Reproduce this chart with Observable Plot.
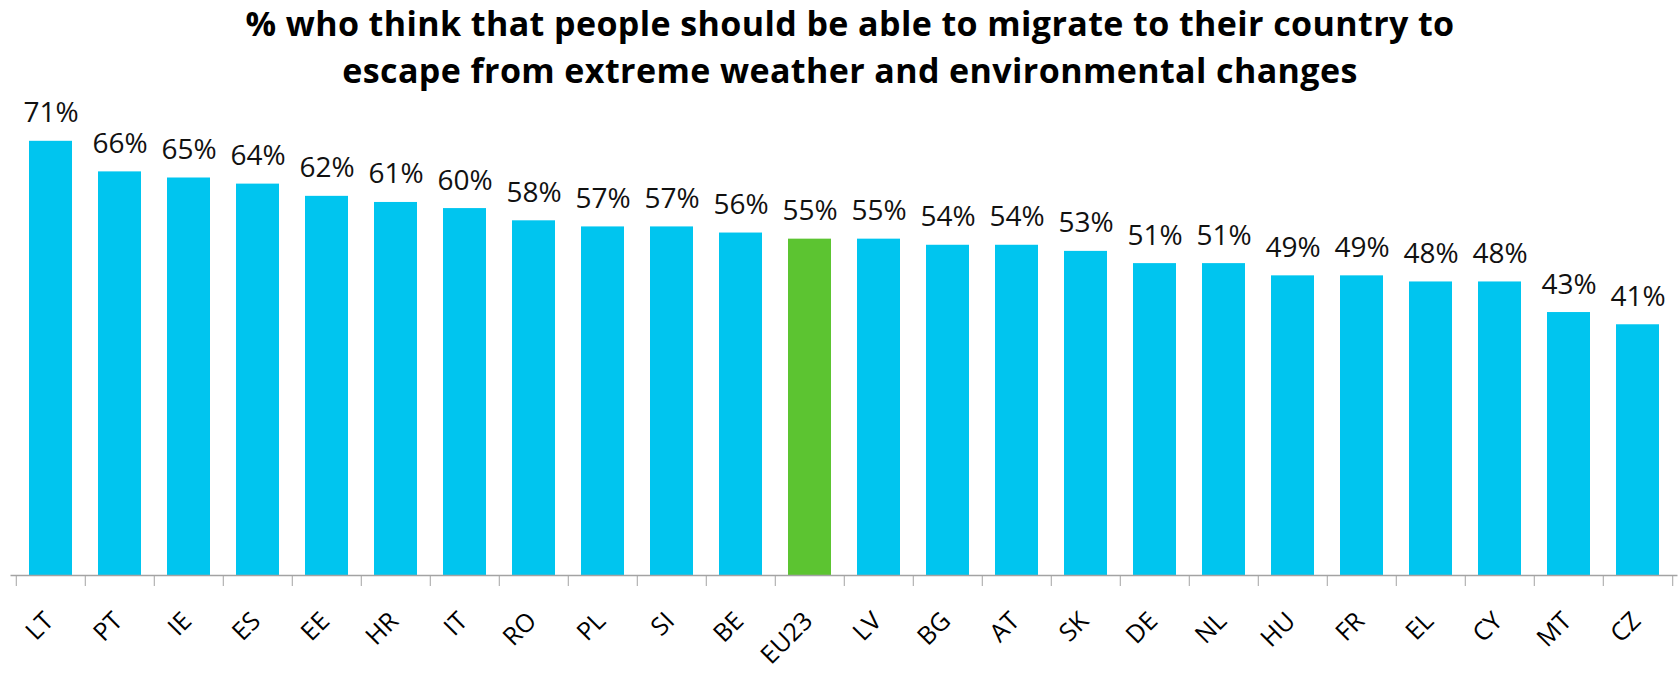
<!DOCTYPE html>
<html>
<head>
<meta charset="utf-8">
<script src="https://cdn.jsdelivr.net/npm/d3@7"></script>
<script src="https://cdn.jsdelivr.net/npm/@observablehq/plot@0.6"></script>
<style>
  html, body { margin: 0; padding: 0; background: #fff; overflow: hidden; }
  #title {
    height: 93px; margin: 0; padding-left: 22px;
    font-family: "Open Sans", sans-serif; font-weight: 700;
    font-size: 34px; line-height: 46.5px; letter-spacing: 0.4px;
    text-align: center; color: #000;
  }
</style>
</head>
<body>
<div id="title">% who think that people should be able to migrate to their country to<br>escape from extreme weather and environmental changes</div>
<div id="chart"></div>
<script>
const countries = ["LT","PT","IE","ES","EE","HR","IT","RO","PL","SI","BE","EU23","LV","BG","AT","SK","DE","NL","HU","FR","EL","CY","MT","CZ"];
const values = [71,66,65,64,62,61,60,58,57,57,56,55,55,54,54,53,51,51,49,49,48,48,43,41];
const highlight = "EU23";

const W = 1678, H = 580;
const mL = 10.5, mR = 0.5;
const step = (W - mL - mR) / countries.length;
const data = countries.map((c, i) => ({country: c, value: values[i]}));

const chart = Plot.plot({
  width: W, height: H,
  marginLeft: mL, marginRight: mR, marginTop: 5, marginBottom: 98,
  style: {fontFamily: "Open Sans", background: "#fff", overflow: "visible"},
  x: {domain: countries, paddingInner: 0.375, paddingOuter: 0.1875, label: null, axis: null},
  y: {domain: [0, 78], axis: null},
  color: {type: "identity"},
  marks: [
    Plot.barY(data, {x: "country", y: "value", fill: d => d.country === highlight ? "#5cc431" : "#00c5ef"}),
    Plot.text(data, {x: "country", y: "value", text: d => d.value + "%", lineAnchor: "bottom", dy: -19, fontSize: 28, fill: "#111"}),
    Plot.ruleY([0], {stroke: "#a3a3a3", strokeWidth: 1.3}),
    Plot.axisX({tickSize: 11, tickFormat: () => "", dx: -step / 2, stroke: "#a3a3a3", label: null}),
    Plot.axisX({ticks: [countries[countries.length - 1]], tickSize: 11, tickFormat: () => "", dx: step / 2, stroke: "#a3a3a3", label: null}),
    Plot.text(countries, {x: d => d, text: d => d, frameAnchor: "bottom", rotate: -45, textAnchor: "end", lineAnchor: "bottom", dx: 4, dy: 47, fontSize: 25, fill: "#000"})
  ]
});
document.getElementById("chart").append(chart);
</script>
</body>
</html>
